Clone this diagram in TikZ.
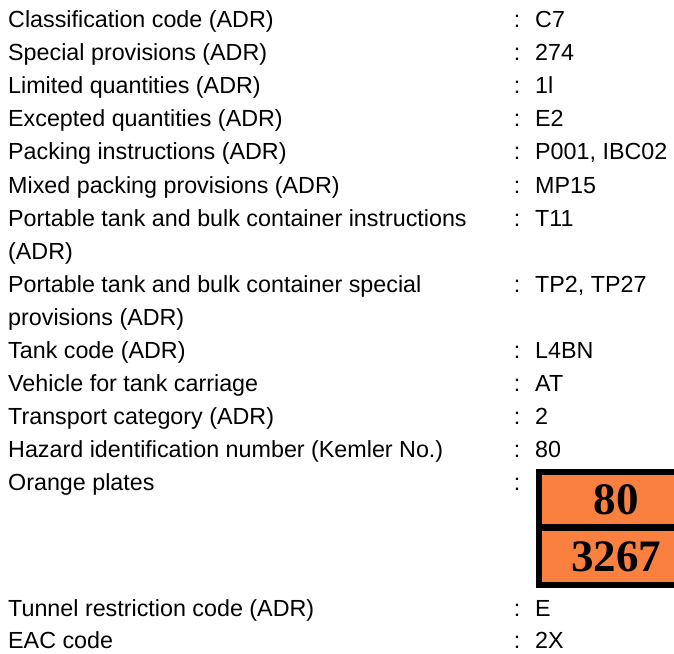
\documentclass[tikz,border=0pt]{standalone}
\usepackage{fontspec}
\setmainfont{Liberation Sans}
\newfontfamily\platefont{Liberation Serif}
\definecolor{plateorange}{RGB}{250,128,64}
\begin{document}
\begin{tikzpicture}[x=1pt,y=-1pt,
  txt/.style={inner sep=0pt,font=\fontsize{23.3}{28}\selectfont},
  lab/.style={txt,anchor=base west},
  col/.style={txt,anchor=base},
  val/.style={txt,anchor=base west},
  platenum/.style={inner sep=0pt,font=\platefont\bfseries\fontsize{45}{48}\selectfont},
  platebox/.style={draw=black,line width=6.5pt,fill=plateorange}]
\useasboundingbox (0,0) rectangle (674,653);
\clip (0,0) rectangle (674,653);
\def\lx{8}\def\cx{517}\def\vx{535}
% rows
\node[lab] (l0) at (\lx,27.5) {Classification code (ADR)};
\node[col] (c0) at (\cx,27.5) {:};
\node[val] (v0) at (\vx,27.5) {C7};
\node[lab] (l1) at (\lx,60.6) {Special provisions (ADR)};
\node[col] (c1) at (\cx,60.6) {:};
\node[val] (v1) at (\vx,60.6) {274};
\node[lab] (l2) at (\lx,93.7) {Limited quantities (ADR)};
\node[col] (c2) at (\cx,93.7) {:};
\node[val] (v2) at (\vx,93.7) {1l};
\node[lab] (l3) at (\lx,126.8) {Excepted quantities (ADR)};
\node[col] (c3) at (\cx,126.8) {:};
\node[val] (v3) at (\vx,126.8) {E2};
\node[lab] (l4) at (\lx,159.9) {Packing instructions (ADR)};
\node[col] (c4) at (\cx,159.9) {:};
\node[val] (v4) at (\vx,159.9) {P001, IBC02};
\node[lab] (l5) at (\lx,193) {Mixed packing provisions (ADR)};
\node[col] (c5) at (\cx,193) {:};
\node[val] (v5) at (\vx,193) {MP15};
\node[lab] (l6) at (\lx,226.1) {Portable tank and bulk container instructions};
\node[col] (c6) at (\cx,226.1) {:};
\node[val] (v6) at (\vx,226.1) {T11};
\node[lab] (l7) at (\lx,259.2) {(ADR)};
\node[lab] (l8) at (\lx,292.3) {Portable tank and bulk container special};
\node[col] (c8) at (\cx,292.3) {:};
\node[val] (v8) at (\vx,292.3) {TP2, TP27};
\node[lab] (l9) at (\lx,325.4) {provisions (ADR)};
\node[lab] (l10) at (\lx,358.5) {Tank code (ADR)};
\node[col] (c10) at (\cx,358.5) {:};
\node[val] (v10) at (\vx,358.5) {L4BN};
\node[lab] (l11) at (\lx,391.6) {Vehicle for tank carriage};
\node[col] (c11) at (\cx,391.6) {:};
\node[val] (v11) at (\vx,391.6) {AT};
\node[lab] (l12) at (\lx,424.7) {Transport category (ADR)};
\node[col] (c12) at (\cx,424.7) {:};
\node[val] (v12) at (\vx,424.7) {2};
\node[lab] (l13) at (\lx,457.8) {Hazard identification number (Kemler No.)};
\node[col] (c13) at (\cx,457.8) {:};
\node[val] (v13) at (\vx,457.8) {80};
\node[lab] (l14) at (\lx,490.9) {Orange plates};
\node[col] (c14) at (\cx,490.9) {:};
\node[lab] (l15) at (\lx,616) {Tunnel restriction code (ADR)};
\node[col] (c15) at (\cx,616) {:};
\node[val] (v15) at (\vx,616) {E};
\node[lab] (l16) at (\lx,648) {EAC code};
\node[col] (c16) at (\cx,648) {:};
\node[val] (v16) at (\vx,648) {2X};
% orange plate
\draw[platebox] (539.2,472.2) rectangle (693,527.5);
\draw[platebox] (539.2,527.5) rectangle (693,584.8);
\node[platenum] (p1) at (616,499.5) {80};
\node[platenum] (p2) at (616,557) {3267};
\end{tikzpicture}
\end{document}
